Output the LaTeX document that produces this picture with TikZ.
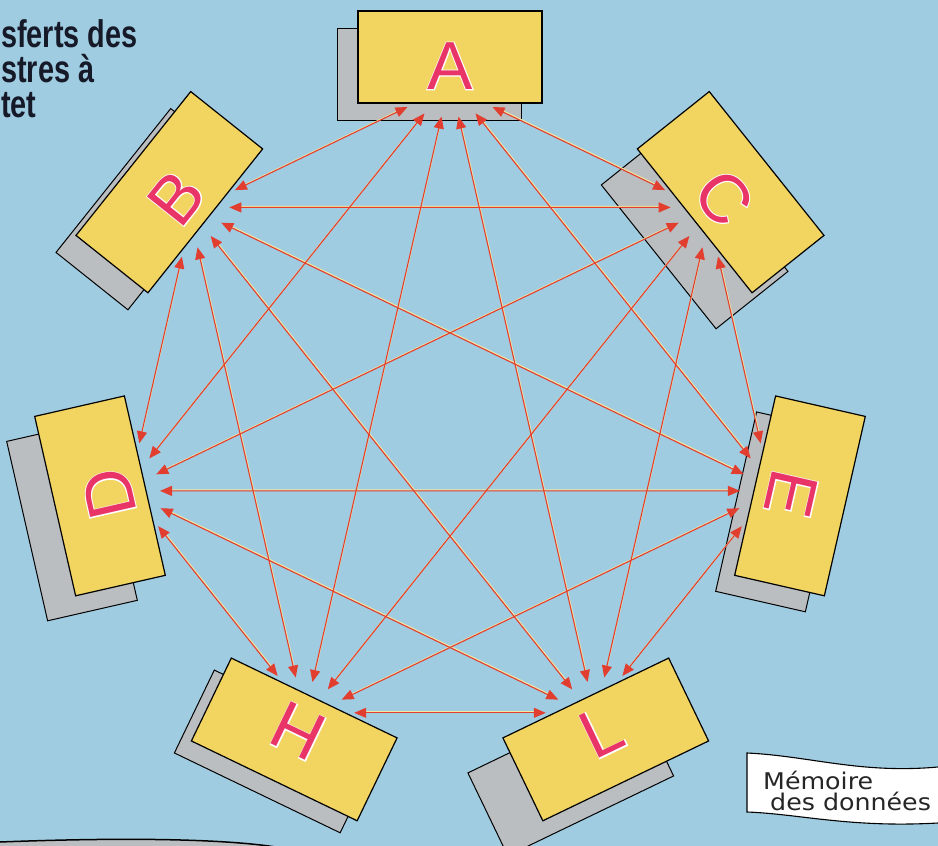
\documentclass[tikz,border=0pt]{standalone}
\usepackage{fontspec}
\setmainfont{Liberation Sans}
\newfontfamily\titlefont[FakeStretch=0.75]{Liberation Sans}
\newfontfamily\rimfont[FakeBold=3]{Liberation Sans}
\newfontfamily\memofont[FakeStretch=1.1]{DejaVu Sans}
\usepackage{tikz}
\usetikzlibrary{arrows.meta}

\definecolor{paper}{RGB}{160,204,226}
\definecolor{cardyellow}{RGB}{242,212,96}
\definecolor{cardgrey}{RGB}{186,190,192}
\definecolor{letterpink}{RGB}{232,52,102}
\definecolor{wirered}{RGB}{226,62,48}
\definecolor{wirelight}{RGB}{240,232,160}
\definecolor{inkdark}{RGB}{22,26,40}

\tikzset{
  card/.style={draw=black, line width=1.2pt, fill=cardyellow,
    minimum width=184pt, minimum height=92pt, inner sep=0pt},
  cardshadow/.style={card, fill=cardgrey, line width=1pt},
  letter/.style={text=letterpink, font=\fontsize{68}{68}\selectfont, inner sep=0pt},
  letterrim/.style={text=white, font=\rimfont\fontsize{68}{68}\selectfont, inner sep=0pt},
  wire/.style={draw=wirered, line width=1.1pt, <->, >={Triangle[length=12pt,width=10pt]}},
  wireglow/.style={draw=wirelight, line width=1.3pt, shorten >=8pt, shorten <=8pt,
    transform canvas={shift={(0.5pt,0.9pt)}}},
  title/.style={font=\titlefont\bfseries\fontsize{38.5}{38.5}\selectfont, text=inkdark, inner sep=0pt},
  memo/.style={font=\memofont\fontsize{23}{23}\selectfont, text=black!85, inner sep=0pt}
}

\begin{document}
\begin{tikzpicture}[x=1pt, y=1pt]
  \useasboundingbox (-450,-430) rectangle (488,416);
  \fill[paper] (-450,-430) rectangle (488,416); % background

  % title, cut by the page edge
  \node[title, anchor=base west] (title1) at (-449,368) {sferts des};
  \node[title, anchor=base west] (title2) at (-449,333) {stres à};
  \node[title, anchor=base west] (title3) at (-449,298) {tet};

  % grey sheets under the cards
  \foreach \n/\i/\sx/\sy in {A/0/-20/-18, B/1/-20/-17, D/2/-28/-25, H/3/-17/-12,
                             L/4/-35/-35, E/5/-19/-16, C/6/-36/-36}{
    \pgfmathsetmacro\ang{90+\i*360/7}
    \pgfmathsetmacro\rot{\i*360/7}
    \pgfmathsetmacro\cx{359*cos(\ang)+\sx}
    \pgfmathsetmacro\cy{359*sin(\ang)+\sy}
    \node[cardshadow, rotate=\rot] (\n-s) at (\cx,\cy) {};
  }

  % arrow ends along the inner side of each card
  \foreach \i in {0,...,6}{
    \pgfmathsetmacro\ang{90+\i*360/7}
    \pgfmathsetmacro\rot{\i*360/7}
    \begin{scope}[shift={(\ang:359)}, rotate=\rot]
      \foreach \k in {1,...,6}
        \coordinate (t\i-\k) at ({(\k-3.5)*17}, {-50-10*(1-(\k-3.5)*(\k-3.5)/6.25)});
    \end{scope}
  }

  % every card talks to every other one
  \foreach \i in {0,...,5}{
    \pgfmathtruncatemacro\nxt{\i+1}
    \foreach \j in {\nxt,...,6}{
      \pgfmathtruncatemacro\kf{\j-\i}
      \pgfmathtruncatemacro\kb{7-\j+\i}
      \draw[wireglow] (t\i-\kf) -- (t\j-\kb);
    }
  }
  \foreach \i in {0,...,5}{
    \pgfmathtruncatemacro\nxt{\i+1}
    \foreach \j in {\nxt,...,6}{
      \pgfmathtruncatemacro\kf{\j-\i}
      \pgfmathtruncatemacro\kb{7-\j+\i}
      \draw[wire] (t\i-\kf) -- (t\j-\kb);
    }
  }

  % the cards
  \foreach \n/\i/\lr in {A/0/0, B/1/51.43, D/2/102.86, H/3/154.29,
                         L/4/25.71, E/5/-102.86, C/6/-51.43}{
    \pgfmathsetmacro\ang{90+\i*360/7}
    \pgfmathsetmacro\rot{\i*360/7}
    \node[card, rotate=\rot] (\n) at (\ang:359) {};
    \node[letterrim, rotate=\lr] (\n-rim) at (\ang:350) {\n};
    \node[letter, rotate=\lr] (\n-txt) at (\ang:350) {\n};
  }

  % edge of the next panel
  \fill[cardgrey] (-450,-426) .. controls (-320,-421) and (-220,-423) .. (-168,-432)
    -- (-450,-432) -- cycle;
  \draw[line width=1.5pt] (-450,-426) .. controls (-320,-421) and (-220,-423) .. (-168,-432);

  % label
  \filldraw[fill=white, draw=black, line width=1.1pt] (492,-351) -- (488,-351)
    .. controls (410,-358) and (360,-340) .. (297,-337) -- (297,-396)
    .. controls (350,-398) and (400,-412) .. (488,-407) -- (492,-407);
  \node[memo, anchor=base west] (memo1) at (313,-373) {Mémoire};
  \node[memo, anchor=base west] (memo2) at (320,-394) {des données};
\end{tikzpicture}
\end{document}
